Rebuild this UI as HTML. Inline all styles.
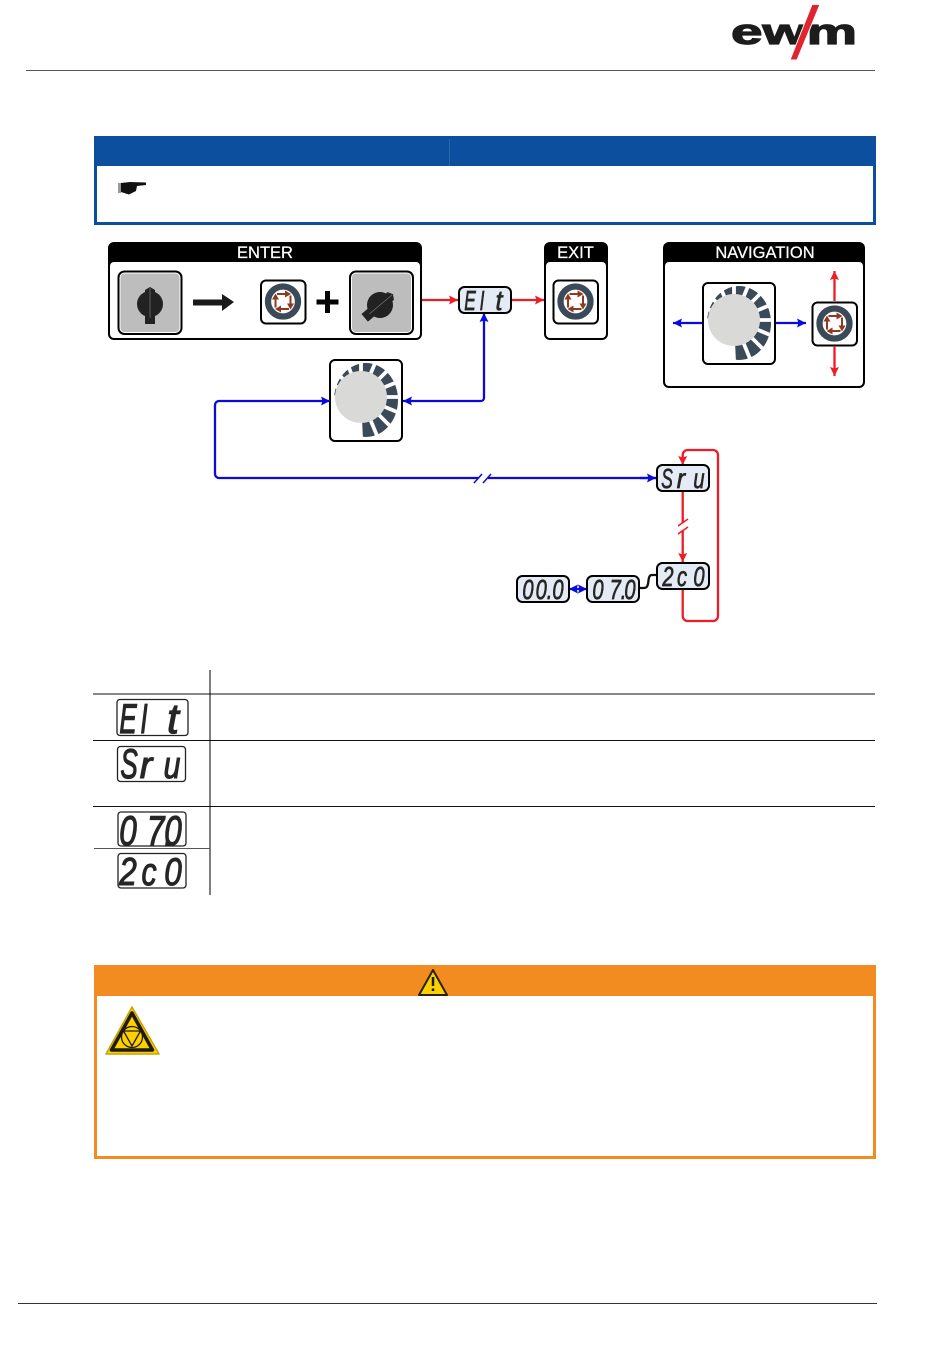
<!DOCTYPE html>
<html><head><meta charset="utf-8"><title>Diagram</title>
<style>
html,body{margin:0;padding:0;background:#fff;width:950px;height:1360px;overflow:hidden}
svg{display:block}
.s,.l{font-family:"Liberation Sans",sans-serif;font-style:italic;fill:#262626;stroke:#262626;text-anchor:middle}
.s{font-size:28px;stroke-width:.7px}
.l{font-size:42px;stroke-width:1.200px}
.hd{font-family:"Liberation Sans",sans-serif;font-size:16.5px;fill:#fff;stroke:#fff;stroke-width:.25px;text-anchor:middle}
</style></head><body>
<svg width="950" height="1360" viewBox="0 0 950 1360" xmlns="http://www.w3.org/2000/svg">
<defs>
<marker id="r" markerWidth="10" markerHeight="10" refX="9" refY="5" orient="auto" markerUnits="userSpaceOnUse"><path d="M0 .5L9 5L0 9.500L1.500 5Z" fill="#ee1c25"/></marker>
<marker id="b" markerWidth="10" markerHeight="10" refX="9" refY="5" orient="auto" markerUnits="userSpaceOnUse"><path d="M0 .5L9 5L0 9.500L1.500 5Z" fill="#0a0adc"/></marker>
<marker id="bs" markerWidth="10" markerHeight="10" refX="0" refY="5" orient="auto" markerUnits="userSpaceOnUse"><path d="M9 .5L0 5L9 9.500L7.500 5Z" fill="#0a0adc"/></marker>
<g id="btn">
<rect x="-22" y="-21" width="44.500" height="43" rx="5" fill="#fff" stroke="#000" stroke-width="2"/>
<circle cx="0" cy="0" r="15" fill="#fff" stroke="#3b4a58" stroke-width="6.300"/>
<g stroke="#8f3a20" stroke-width="2" fill="#8f3a20">
<path d="M-6 -7.500H3"/><path d="M7.500 -6V3"/><path d="M6 7.500H-3"/><path d="M-7.500 6V-3"/>
<path d="M2 -11L8 -7.500L2 -4Z" stroke="none"/><path d="M4 2L7.500 8L11 2Z" stroke="none"/><path d="M-2 4L-8 7.500L-2 11Z" stroke="none"/><path d="M-11 -2L-7.500 -8L-4 -2Z" stroke="none"/>
</g>
</g>
<g id="dial">
<rect x="330" y="360" width="72" height="81" rx="5" fill="#fff"/>
<ellipse cx="366" cy="400" rx="32" ry="37" fill="#3b4a58"/>
<path d="M361 397L363 440H331V395Z" fill="#fff"/>
<g stroke="#fff" stroke-width="3.800">
<path d="M361 397l19.100 46.200M361 397l35.400 35.400M361 397l46.200 19.100M361 397l50 0M361 397l46.200 -19.100M361 397l35.400 -35.400M361 397l19.100 -46.200M361 397l0 -50M361 397l-19.100 -46.200M361 397l-35.400 -35.400M361 397l-46.200 -19.100"/>
</g>
<circle cx="361" cy="397" r="26" fill="#d9d9d8"/>
<rect x="330" y="360" width="72" height="81" rx="5" fill="none" stroke="#000" stroke-width="2"/>
</g>
<g id="knob">
<circle cx="0" cy="0" r="13" fill="#222"/>
<path d="M-5 -14L0 -17L5 -14V20H-5Z" fill="#222"/>
<path d="M0 -16V14" stroke="#777" stroke-width=".7"/>
</g>
<g id="disp"><rect x="0" y="0" width="52" height="26" rx="5.500" fill="#e5ebf5" stroke="#000" stroke-width="2"/></g>
</defs>

<!-- header -->
<path d="M26 70.500H875" stroke="#555" stroke-width="1"/>
<text x="731" y="44" font-family="Liberation Sans,sans-serif" font-weight="700" font-size="36" textLength="126" lengthAdjust="spacingAndGlyphs" fill="#1c1c1c" stroke="#1c1c1c" stroke-width="1.200">ewm</text>
<path d="M812 4.500H820L797 60H790Z" fill="#e1232f" stroke="#fff" stroke-width="1"/>

<!-- blue box -->
<rect x="95.500" y="137.500" width="779" height="86" fill="#fff" stroke="#0b4f9e" stroke-width="3"/>
<rect x="94" y="136" width="782" height="30" fill="#0b4f9e"/>
<path d="M449.500 139V166" stroke="#2a66ae" stroke-width="1"/>
<path d="M118 183H121V193H118Z" fill="#999"/><path d="M121 183L130 182L146 182.500V185L137 186L136 191L129 194.500L121 192Z" fill="#111"/>

<!-- ENTER box -->
<rect x="108" y="242" width="314" height="98" rx="6" fill="#000"/>
<rect x="110" y="262" width="310" height="76" rx="4" fill="#fff"/>
<text class="hd" x="265" y="258">ENTER</text>
<rect x="118.500" y="271.500" width="63" height="62.500" rx="6" fill="#fff" stroke="#000" stroke-width="2"/>
<rect x="120.500" y="273.500" width="59" height="58.500" rx="4" fill="#bdbdbd"/>
<use href="#knob" transform="translate(150 304)"/>
<path d="M193 299.500H222V294L234 302L222 311V305.500H193Z" fill="#1a1a1a"/>
<use href="#btn" transform="translate(283 301.500)"/>
<path d="M325 291h5v8.500h8.500v5H330V313h-5v-8.500h-8.500v-5H325Z" fill="#000"/>
<rect x="350" y="271.500" width="63" height="62.500" rx="6" fill="#fff" stroke="#000" stroke-width="2"/>
<rect x="352" y="273.500" width="59" height="58.500" rx="4" fill="#bdbdbd"/>
<use href="#knob" transform="translate(380 305) rotate(50)"/>

<!-- EXIT -->
<rect x="544" y="242" width="64" height="98" rx="6" fill="#000"/>
<rect x="546" y="262" width="60" height="76" rx="4" fill="#fff"/>
<text class="hd" x="575.500" y="258">EXIT</text>
<use href="#btn" transform="translate(575.500 301.500)"/>

<!-- NAVIGATION -->
<rect x="663" y="242" width="202" height="146" rx="6" fill="#000"/>
<rect x="665" y="262" width="198" height="124" rx="4" fill="#fff"/>
<text class="hd" x="765" y="258">NAVIGATION</text>
<use href="#dial" transform="translate(373 -77)"/>
<use href="#btn" transform="translate(834.500 323.500)"/>
<g fill="none" stroke-width="2.300">
<path d="M702 323H673" stroke="#0a0adc" marker-end="url(#b)"/>
<path d="M776 323H806" stroke="#0a0adc" marker-end="url(#b)"/>
<path d="M834.500 301V271" stroke="#ee1c25" marker-end="url(#r)"/>
<path d="M834.500 346V376" stroke="#ee1c25" marker-end="url(#r)"/>
</g>

<!-- dial -->
<use href="#dial"/>

<!-- connectors -->
<g fill="none" stroke-width="2.300">
<path d="M422 300H458" stroke="#e0202a" marker-end="url(#r)"/>
<path d="M511 300H544" stroke="#ee1c25" marker-end="url(#r)"/>
<path d="M403 401H481a3 3 0 0 0 3 -3V313" stroke="#0a0adc" marker-start="url(#bs)" marker-end="url(#b)"/>
<path d="M656 478H219a4 4 0 0 1 -4 -4V405a4 4 0 0 1 4 -4H330" stroke="#0a0adc" marker-end="url(#b)"/>
<path d="M640 478H656" stroke="#0a0adc" marker-end="url(#b)"/>
<path d="M682.700 491V562" stroke="#ee1c25" marker-end="url(#r)"/>
<path d="M682.700 589V616a5 5 0 0 0 5 5H713a5 5 0 0 0 5 -5V455a5 5 0 0 0 -5 -5H688a5 5 0 0 0 -5.300 5V465" stroke="#ee1c25" marker-end="url(#r)"/>
<path d="M569 589H587" stroke="#0a0adc" marker-start="url(#bs)" marker-end="url(#b)"/>
<path d="M639 588H644C651 588 646 575 652 575H657" stroke="#111"/>
</g>
<!-- breaks -->
<path d="M478 475H488V481H478Z" fill="#fff"/>
<path d="M474 483L482 474M483 483L491 474" stroke="#0a0adc" stroke-width="1.500" fill="none"/>
<path d="M678 523H688V530H678Z" fill="#fff"/>
<path d="M678 526L688 519M678 534L688 527" stroke="#ee1c25" stroke-width="1.500" fill="none"/>

<!-- displays -->
<use href="#disp" x="459" y="287"/>
<text class="s" transform="translate(470 310) scale(.62 1)">E</text>
<text class="s" transform="translate(482 310) scale(.62 1)">I</text>
<text class="s" transform="translate(499 310) scale(.9 1)">t</text>
<use href="#disp" x="657" y="465"/>
<text class="s" transform="translate(667 488) scale(.62 1)">S</text>
<text class="s" transform="translate(681 488) scale(.9 1)">r</text>
<text class="s" transform="translate(699 488) scale(.72 1)">u</text>
<use href="#disp" x="657" y="563"/>
<text class="s" transform="translate(668 586) scale(.72 1)">2</text>
<text class="s" transform="translate(682 586) scale(.72 1)">c</text>
<text class="s" transform="translate(699 586) scale(.72 1)">0</text>
<use href="#disp" x="587" y="576"/>
<text class="s" transform="translate(598 599) scale(.72 1)">0</text>
<text class="s" transform="translate(618 599) scale(.72 1)">7.</text>
<text class="s" transform="translate(630 599) scale(.72 1)">0</text>
<use href="#disp" x="517" y="576"/>
<text class="s" transform="translate(528 599) scale(.72 1)">0</text>
<text class="s" transform="translate(544 599) scale(.72 1)">0.</text>
<text class="s" transform="translate(558 599) scale(.72 1)">0</text>

<!-- table -->
<path d="M210 670V895" stroke="#555" stroke-width="1.500"/>
<path d="M93 694H875M93 740.500H875M93 806.500H875" stroke="#111" stroke-width="1"/>
<path d="M94 848.500H210" stroke="#555" stroke-width="1"/>
<g fill="#fff" stroke="#222" stroke-width="1.300">
<rect x="117" y="699.500" width="71" height="36" rx="3"/>
<rect x="117.500" y="746.500" width="68" height="35" rx="3"/>
<rect x="118" y="812" width="68" height="34" rx="3"/>
<rect x="118" y="853.500" width="68" height="34.500" rx="3"/>
</g>
<text class="l" transform="translate(128 733) scale(.62 1)">E</text>
<text class="l" transform="translate(144 733) scale(.62 1)">I</text>
<text class="l" transform="translate(173 733) scale(1 1)">t</text>
<text class="l" transform="translate(129 778) scale(.62 1)">S</text>
<text class="l" transform="translate(146 778) scale(.9 .9)">r</text>
<text class="l" transform="translate(172 778) scale(.72 .9)">u</text>
<text class="l" transform="translate(128 845) scale(.75 1)">0</text>
<text class="l" transform="translate(160 845) scale(.75 1)">7.</text>
<text class="l" transform="translate(173 845) scale(.75 1)">0</text>
<text class="l" transform="translate(128 885) scale(.75 .92)">2</text>
<text class="l" transform="translate(149 885) scale(.72 .92)">c</text>
<text class="l" transform="translate(173 885) scale(.75 .92)">0</text>

<!-- orange box -->
<rect x="95.500" y="966.500" width="779" height="191" fill="#fff" stroke="#f28c20" stroke-width="3"/>
<rect x="94" y="965" width="782" height="31" fill="#f28c20"/>
<path d="M433 970L447 995H419Z" fill="#fdd000" stroke="#2a2110" stroke-width="2" stroke-linejoin="round"/>
<path d="M433 977V986M433 988.500V991" stroke="#1a1a1a" stroke-width="2.500"/>
<path d="M132 1007L159 1054H106Z" fill="#fdd000" stroke="#c9a400" stroke-width="1.500" stroke-linejoin="round"/>
<path d="M132 1013L152.500 1050H111.500Z" fill="#fdd000" stroke="#1f1a10" stroke-width="3.500" stroke-linejoin="round"/>
<circle cx="132" cy="1037" r="10.500" fill="none" stroke="#1f1a10" stroke-width="1.300"/>
<path d="M123.500 1031H140.500L132 1046Z" fill="none" stroke="#1f1a10" stroke-width="1.300"/>

<!-- footer -->
<path d="M18 1303.500H877" stroke="#333" stroke-width="1"/>
</svg>
</body></html>
